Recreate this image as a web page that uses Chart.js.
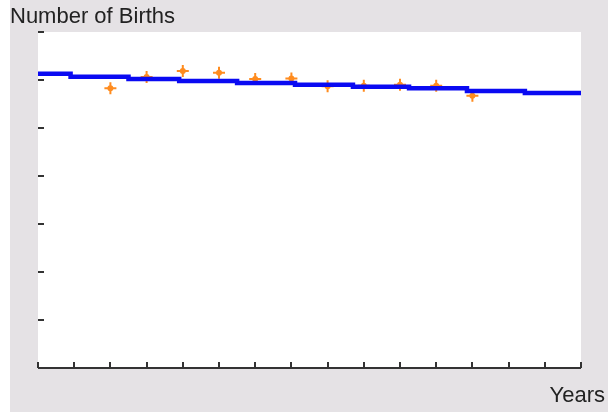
<!DOCTYPE html>
<html>
<head>
<meta charset="utf-8">
<script src="https://cdn.jsdelivr.net/npm/chart.js@4"></script>
<style>
  html, body { margin: 0; padding: 0; background: #fff; }
  canvas { display: block; }
</style>
</head>
<body>
<canvas id="birthsChart" width="608" height="412"></canvas>
<script>
// step line (fitted trend) - each level holds from its year until the next one
const stepYears = [0, 0.9, 2.5, 3.9, 5.5, 7.1, 8.7, 10.25, 11.85, 13.45, 15];
const stepBirths = [61.3, 60.7, 60.2, 59.8, 59.4, 59.0, 58.6, 58.3, 57.7, 57.3, 57.3];

// observed points
const obsYears = [2, 3, 4, 5, 6, 7, 8, 9, 10, 11, 12];
const obsBirths = [58.3, 60.6, 61.9, 61.5, 60.2, 60.3, 58.7, 58.8, 59.0, 58.8, 56.7];

// axis ranges (no tick labels shown in the picture)
const xRange = [0, 15];
const yRange = [0, 70];
const xStep = 1;
const yStep = 10;

const toPoints = (xs, ys) => xs.map((x, i) => ({ x: x, y: ys[i] }));

// gray frame, white plot area, tick marks and the bottom axis line
const framePlugin = {
    id: 'frame',
    beforeDraw(chart) {
        const { ctx, chartArea: a } = chart;
        ctx.save();
        ctx.fillStyle = '#ffffff';
        ctx.fillRect(0, 0, chart.width, chart.height);
        ctx.fillStyle = '#e5e2e5';
        ctx.fillRect(10, 0, chart.width - 10, chart.height);
        ctx.fillStyle = '#ffffff';
        ctx.fillRect(a.left, a.top, a.right - a.left, a.bottom - a.top);
        ctx.restore();
    },
    beforeDatasetsDraw(chart) {
        const { ctx, chartArea: a, scales } = chart;
        ctx.save();
        ctx.strokeStyle = '#333333';
        ctx.lineWidth = 2;
        ctx.beginPath();
        // x ticks point up into the plot
        scales.x.ticks.forEach(t => {
            const px = Math.round(scales.x.getPixelForValue(t.value));
            ctx.moveTo(px, a.bottom);
            ctx.lineTo(px, a.bottom - 6);
        });
        // y ticks point right into the plot
        scales.y.ticks.forEach(t => {
            if (t.value === yRange[0]) return;
            const py = Math.round(scales.y.getPixelForValue(t.value));
            ctx.moveTo(a.left, py);
            ctx.lineTo(a.left + 6, py);
        });
        ctx.moveTo(a.left, a.bottom);
        ctx.lineTo(a.right, a.bottom);
        ctx.stroke();
        ctx.restore();
    }
};

const hiddenAxis = {
    grid: { display: false },
    border: { display: false },
    ticks: { display: false }
};

const ctx = document.getElementById('birthsChart').getContext('2d');
new Chart(ctx, {
    type: 'scatter',
    data: {
        datasets: [
            {
                label: 'Trend',
                data: toPoints(stepYears, stepBirths),
                showLine: true,
                stepped: 'before',
                borderColor: '#0a0af2',
                borderWidth: 4.5,
                pointRadius: 0
            },
            {
                label: 'Births',
                data: toPoints(obsYears, obsBirths),
                pointStyle: 'cross',
                pointRadius: 6,
                borderColor: '#ff8c1f',
                borderWidth: 2
            },
            {
                label: 'Births dot',
                data: toPoints(obsYears, obsBirths),
                pointStyle: 'circle',
                pointRadius: 3,
                backgroundColor: '#ff8c1f',
                borderWidth: 0
            }
        ]
    },
    options: {
        responsive: false,
        animation: false,
        devicePixelRatio: 1,
        layout: { padding: { left: 10, right: 3, top: 0, bottom: 0 } },
        plugins: {
            legend: { display: false },
            tooltip: { enabled: false },
            title: {
                display: true,
                text: 'Number of Births',
                align: 'start',
                color: '#222222',
                font: { family: 'Arial, "Liberation Sans", sans-serif', size: 22, weight: 'normal', lineHeight: 1 },
                padding: { top: 6, bottom: 4 }
            },
            subtitle: {
                display: true,
                text: 'Years',
                position: 'bottom',
                align: 'end',
                color: '#222222',
                font: { family: 'Arial, "Liberation Sans", sans-serif', size: 22, weight: 'normal', lineHeight: 1 },
                padding: { top: 0, bottom: 5.5 }
            }
        },
        scales: {
            x: {
                type: 'linear',
                min: xRange[0],
                max: xRange[1],
                ...hiddenAxis,
                ticks: { display: false, stepSize: xStep },
                afterFit: s => { s.height = 16.5; }
            },
            y: {
                type: 'linear',
                min: yRange[0],
                max: yRange[1],
                ...hiddenAxis,
                ticks: { display: false, stepSize: yStep },
                afterFit: s => { s.width = 28; }
            },
            y2: {
                type: 'linear',
                position: 'right',
                ...hiddenAxis,
                afterFit: s => { s.width = 24; }
            }
        }
    },
    plugins: [framePlugin]
});
</script>
</body>
</html>
